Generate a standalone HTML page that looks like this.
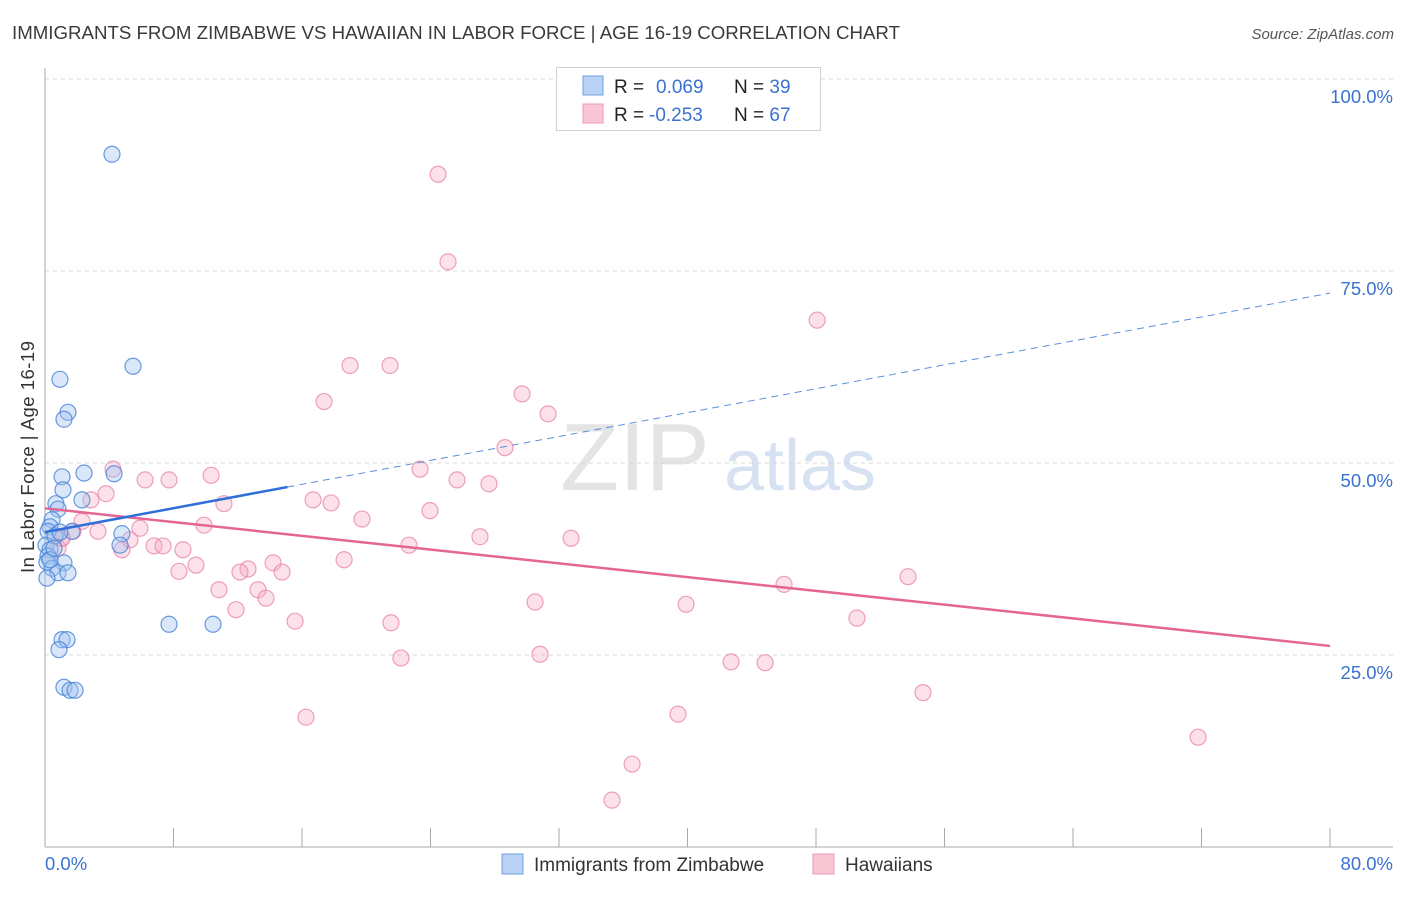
<!DOCTYPE html>
<html><head><meta charset="utf-8"><style>
body{margin:0;background:#fff;font-family:"Liberation Sans",sans-serif;}
svg text{font-family:"Liberation Sans",sans-serif;}
</style></head><body>
<svg id="chart" width="1406" height="892" xmlns="http://www.w3.org/2000/svg">
<text x="12" y="39" font-size="18.5" fill="#3a3a3a" textLength="888" lengthAdjust="spacingAndGlyphs">IMMIGRANTS FROM ZIMBABWE VS HAWAIIAN IN LABOR FORCE | AGE 16-19 CORRELATION CHART</text>
<text x="1394" y="39" font-size="15" fill="#555" font-style="italic" text-anchor="end">Source: ZipAtlas.com</text>
<g>
<text x="635" y="490" font-size="96" fill="#e4e4e4" text-anchor="middle" font-family="Liberation Serif">ZIP</text>
<text x="800" y="490" font-size="72" fill="#d6e2f2" text-anchor="middle">atlas</text>
</g>
<g id="grid"></g>
<g id="axes"></g>
<g id="marks"></g>
<g>
<rect x="556.5" y="67.5" width="264" height="63" fill="#fff" stroke="#d0d0d0"/>
<rect x="583" y="76" width="20" height="19" fill="#b8d2f4" stroke="#6fa0e0"/>
<rect x="583" y="104" width="20" height="19" fill="#f9c6d6" stroke="#ee9ab5"/>
<text x="614" y="93" font-size="19" fill="#222">R = <tspan x="656" fill="#3a72d0">0.069</tspan></text>
<text x="734" y="93" font-size="19" fill="#222">N = <tspan fill="#3a72d0">39</tspan></text>
<text x="614" y="121" font-size="19" fill="#222">R = <tspan x="649" fill="#3a72d0">-0.253</tspan></text>
<text x="734" y="121" font-size="19" fill="#222">N = <tspan fill="#3a72d0">67</tspan></text>
</g>
<text transform="translate(34,457) rotate(-90)" font-size="18.5" fill="#333" text-anchor="middle" textLength="232">In Labor Force | Age 16-19</text>
<g>
<rect x="502" y="854" width="21" height="20" fill="#b8d2f4" stroke="#6fa0e0"/>
<text x="534" y="871" font-size="19" fill="#333">Immigrants from Zimbabwe</text>
<rect x="813" y="854" width="21" height="20" fill="#f9c6d6" stroke="#ee9ab5"/>
<text x="845" y="871" font-size="19" fill="#333">Hawaiians</text>
</g>
</svg>
<script>
const blueX=[4.17,5.48,0.93,1.43,1.18,1.06,2.43,4.30,1.12,2.30,0.68,0.81,0.44,0.31,0.19,1.68,4.79,4.67,0.06,0.31,0.19,0.12,1.18,0.44,0.81,1.43,0.12,1.06,1.37,0.87,7.72,10.46,1.18,1.56,1.87,0.62,0.93,0.31,0.56];
const blueY=[90.2,62.6,60.9,56.6,55.7,48.2,48.7,48.6,46.5,45.2,44.7,44.0,42.6,41.7,41.1,41.1,40.8,39.3,39.3,38.7,37.9,37.1,37.0,36.3,35.7,35.7,35.0,27.0,27.0,25.7,29.0,29.0,20.8,20.4,20.4,40.5,41.0,37.4,38.9];
const pinkX=[24.47,25.09,48.07,18.99,21.48,17.37,29.70,31.32,28.64,23.35,4.23,10.34,6.23,7.72,25.65,27.64,3.80,2.86,16.69,17.81,11.14,23.97,19.74,2.30,9.90,5.91,1.74,3.30,27.08,32.75,5.29,1.06,22.66,6.79,7.35,0.81,4.79,8.59,18.62,14.20,9.40,12.64,12.14,14.76,8.34,53.73,46.01,10.83,13.26,13.76,30.51,39.91,11.89,50.55,15.57,21.54,30.82,22.16,42.71,44.83,54.66,16.25,39.41,71.79,36.55,35.30,1.06];
const pinkY=[87.6,76.2,68.6,62.7,62.7,58.0,59.0,56.4,52.0,49.2,49.2,48.4,47.8,47.8,47.8,47.3,46.0,45.2,45.2,44.8,44.7,43.8,42.7,42.4,41.9,41.5,41.1,41.1,40.4,40.2,40.0,40.2,39.3,39.2,39.2,38.9,38.7,38.7,37.4,37.0,36.7,36.2,35.8,35.8,35.9,35.2,34.2,33.5,33.5,32.4,31.9,31.6,30.9,29.8,29.4,29.2,25.1,24.6,24.1,24.0,20.1,16.9,17.3,14.3,10.8,6.1,40.2];
const blueTrend=[41.0,0.389]; // intercept, slope
const blueSolidEnd=15.1;
const pinkTrend=[44.1,-0.224];
const yTicks=[25,50,75,100];
const yTickLabels=["25.0%","50.0%","75.0%","100.0%"];
const xTicks=[0,8,16,24,32,40,48,56,64,72,80];
const xEndLabels=["0.0%","80.0%"];

const NS="http://www.w3.org/2000/svg";
const X=v=>45+v*1285/80;
const Y=v=>847-v*7.68;
function mk(tag,attrs,parent){const e=document.createElementNS(NS,tag);for(const k in attrs)e.setAttribute(k,attrs[k]);document.getElementById(parent).appendChild(e);return e;}

yTicks.forEach((t,i)=>{
  const g=mk('line',{x1:45,x2:1393,y1:Y(t),y2:Y(t),stroke:'#d8d8d8','stroke-dasharray':'4,4'},'grid');
  
  
  const l=mk('text',{x:1393,y:Y(t)+24,'font-size':18.5,fill:'#3a72d0','text-anchor':'end'},'axes');
  l.textContent=yTickLabels[i];
  
  
});
const ya=mk('line',{x1:45,x2:45,y1:68,y2:847,stroke:'#aaa'},'axes');


const xa=mk('line',{x1:45,x2:1393,y1:847,y2:847,stroke:'#aaa'},'axes');


xTicks.forEach(t=>{
  const tk=mk('line',{x1:X(t),x2:X(t),y1:828,y2:847,stroke:'#aaa'},'axes');
  
  
});
const xl0=mk('text',{x:45,y:870,'font-size':18.5,fill:'#3a72d0'},'axes');
xl0.textContent=xEndLabels[0];


const xl1=mk('text',{x:1393,y:870,'font-size':18.5,fill:'#3a72d0','text-anchor':'end'},'axes');
xl1.textContent=xEndLabels[1];



pinkX.forEach((x,i)=>{
  const c=mk('circle',{cx:X(x),cy:Y(pinkY[i]),r:8,fill:'rgba(246,170,195,0.35)',stroke:'rgba(232,130,165,0.75)','stroke-width':1.2},'marks');
  
  
});
blueX.forEach((x,i)=>{
  const c=mk('circle',{cx:X(x),cy:Y(blueY[i]),r:8,fill:'rgba(160,195,240,0.4)',stroke:'rgba(70,130,215,0.8)','stroke-width':1.2},'marks');
  
  
});
const bt=v=>blueTrend[0]+blueTrend[1]*v;
const pt=v=>pinkTrend[0]+pinkTrend[1]*v;
const pl=mk('line',{x1:X(0),y1:Y(pt(0)),x2:X(80),y2:Y(pt(80)),stroke:'#e56693','stroke-width':2.5},'marks');


const bs=mk('line',{x1:X(0),y1:Y(bt(0)),x2:X(blueSolidEnd),y2:Y(bt(blueSolidEnd)),stroke:'#2f6fd6','stroke-width':2.5},'marks');


const bd=mk('line',{x1:X(blueSolidEnd),y1:Y(bt(blueSolidEnd)),x2:X(80),y2:Y(bt(80)),stroke:'#5b8fdc','stroke-width':1,'stroke-dasharray':'7,5'},'marks');


</script>
</body></html>
